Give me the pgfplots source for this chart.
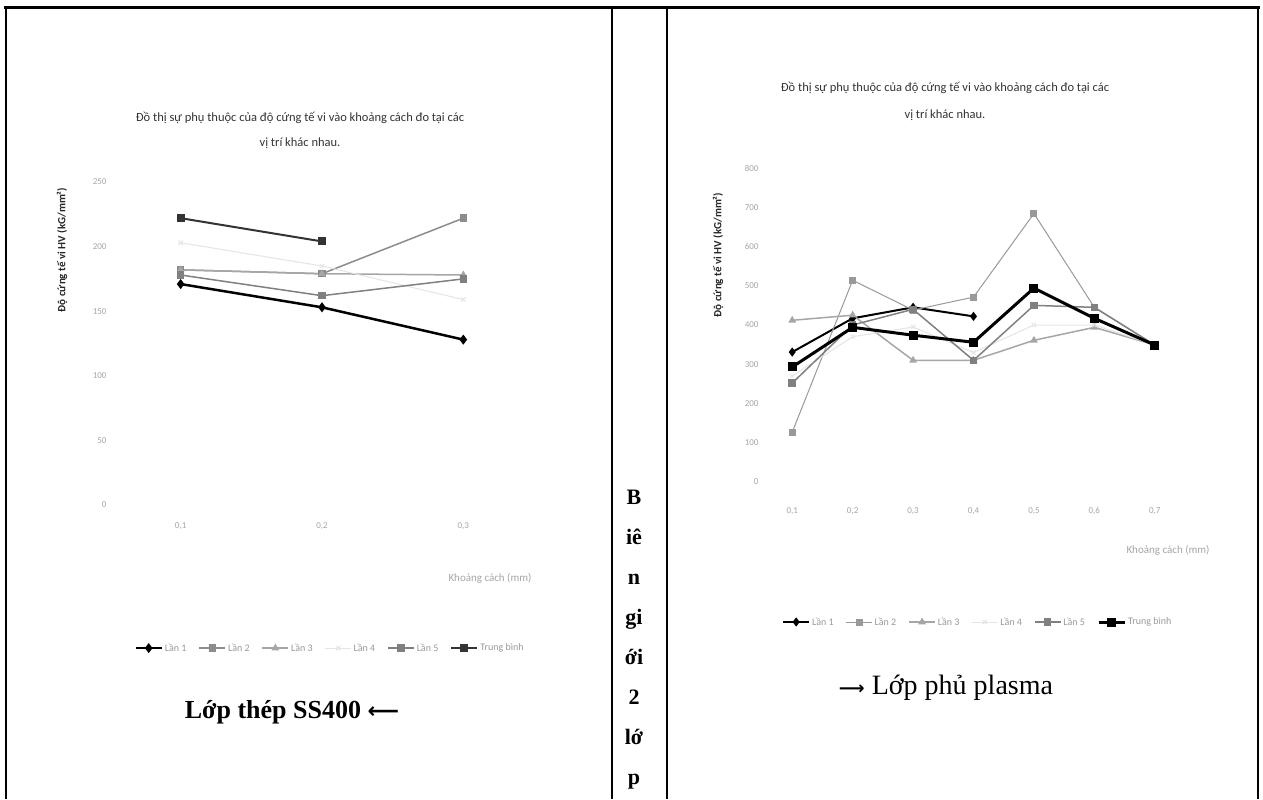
\documentclass[border=0pt]{standalone}
\usepackage{fontspec}
\setmainfont{Liberation Serif}
\newfontfamily\chartfont{Carlito}
\newfontfamily\arrowfont{DejaVu Sans}
\usepackage{pgfplots}
\pgfplotsset{compat=1.18}
\begin{document}
\begin{tikzpicture}[x=1pt,y=1pt]
\path[fill=white] (0,0) rectangle (1263,799);
% frame
\draw[line width=3pt] (4,791) -- (1260,791);
\draw[line width=2pt] (6,792) -- (6,0);
\draw[line width=1.5pt] (612,792) -- (612,0);
\draw[line width=1.2pt] (667,792) -- (667,0);
\draw[line width=2pt] (1258,792) -- (1258,0);

\pgfplotsset{mystyle/.style={scale only axis,
  axis line style={draw=none}, tick style={draw=none},
  ticklabel style={font=\chartfont\fontsize{9}{10}\selectfont, text=black!35},
  /pgf/number format/assume math mode=true,
  legend style={draw=none, fill=none, font=\chartfont\fontsize{10}{12}\selectfont,
    text=black!40, anchor=center,
    /tikz/every even column/.append style={column sep=10pt}},
  legend image code/.code={\draw[mark repeat=2,mark phase=2] plot coordinates {(0pt,0pt)(13pt,0pt)(26pt,0pt)};},
  legend columns=6, legend cell align=left,
  every axis plot/.append style={mark size=3pt}}}

% ---------- left chart ----------
\begin{axis}[mystyle, at={(110pt,294pt)}, anchor=south west,
  width=424pt, height=323pt,
  xmin=-0.5, xmax=2.5, ymin=0, ymax=250,
  ytick={0,50,...,250},
  xtick={0,1,2}, xticklabels={{0,1},{0,2},{0,3}},
  xticklabel style={yshift=-14pt},
  legend style={at={(0.519,-0.443)}}]
\addplot[black, line width=2.5pt, mark=diamond*] coordinates {(0,171)(1,153)(2,128)};
\addplot[black!45, line width=1.5pt, mark=square*] coordinates {(0,182)(1,179)(2,222)};
\addplot[black!35, line width=1.5pt, mark=triangle*] coordinates {(0,182)(1,179)(2,178)};
\addplot[black!10, line width=1pt, mark=x] coordinates {(0,203)(1,185)(2,159)};
\addplot[black!50, line width=1.5pt, mark=square*] coordinates {(0,178)(1,162)(2,175)};
\addplot[black!80, line width=2pt, mark=square*] coordinates {(0,222)(1,204)};
\legend{Lần 1, Lần 2, Lần 3, Lần 4, Lần 5, Trung bình}
\end{axis}

% ---------- right chart ----------
\begin{axis}[mystyle, at={(762pt,317pt)}, anchor=south west,
  width=423pt, height=314pt,
  xmin=-0.5, xmax=6.5, ymin=0, ymax=800,
  ytick={0,100,...,800},
  xtick={0,1,...,6}, xticklabels={{0,1},{0,2},{0,3},{0,4},{0,5},{0,6},{0,7}},
  xticklabel style={yshift=-22pt},
  legend style={at={(0.51,-0.446)}}]
\addplot[black, line width=2pt, mark=diamond*] coordinates {(0,331)(1,417)(2,445)(3,422)};
\addplot[black!40, line width=1pt, mark=square*] coordinates {(0,127)(1,514)(2,438)(3,471)(4,684)(5,445)(6,349)};
\addplot[black!35, line width=1.5pt, mark=triangle*] coordinates {(0,412)(1,425)(2,310)(3,310)(4,361)(5,394)(6,349)};
\addplot[black!10, line width=1pt, mark=x] coordinates {(0,270)(1,370)(2,395)(3,330)(4,400)(5,400)(6,349)};
\addplot[black!50, line width=1.5pt, mark=square*] coordinates {(0,252)(1,400)(2,440)(3,310)(4,450)(5,445)(6,349)};
\addplot[black, line width=3pt, mark=square*] coordinates {(0,293)(1,394)(2,374)(3,356)(4,494)(5,417)(6,349)};
\legend{Lần 1, Lần 2, Lần 3, Lần 4, Lần 5, Trung bình}
\end{axis}

% ---------- texts ----------
\node[font=\chartfont\fontsize{12.5}{25}\selectfont, align=center, text=black!80]
  at (300,668.5) {Đồ thị sự phụ thuộc của độ cứng tế vi vào khoảng cách đo tại các\\vị trí khác nhau.};
\node[font=\chartfont\fontsize{12.5}{27}\selectfont, align=center, text=black!80]
  at (945,697.5) {Đồ thị sự phụ thuộc của độ cứng tế vi vào khoảng cách đo tại các\\vị trí khác nhau.};

\node[rotate=90, font=\chartfont\bfseries\fontsize{11}{12}\selectfont, text=black!85]
  at (62,549) {Độ cứng tế vi HV (kG/mm²)};
\node[rotate=90, font=\chartfont\bfseries\fontsize{11}{12}\selectfont, text=black!85]
  at (718,544) {Độ cứng tế vi HV (kG/mm²)};

\node[font=\chartfont\fontsize{11}{12}\selectfont, text=black!35] at (490,221) {Khoảng cách (mm)};
\node[font=\chartfont\fontsize{11}{12}\selectfont, text=black!35] at (1168,249) {Khoảng cách (mm)};

\node[font=\bfseries\fontsize{26}{30}\selectfont] at (292,87) {Lớp thép SS400 {\arrowfont\bfseries\fontsize{22}{30}\selectfont ⟵}};
\node[font=\fontsize{28}{32}\selectfont] at (946,111) {{\arrowfont\bfseries\fontsize{18}{30}\selectfont ⟶} Lớp phủ plasma};

\node[font=\bfseries\fontsize{22}{40}\selectfont, align=center, anchor=north]
  at (634,312) {B\\iê\\n\\gi\\ới\\2\\lớ\\p};
\end{tikzpicture}
\end{document}
